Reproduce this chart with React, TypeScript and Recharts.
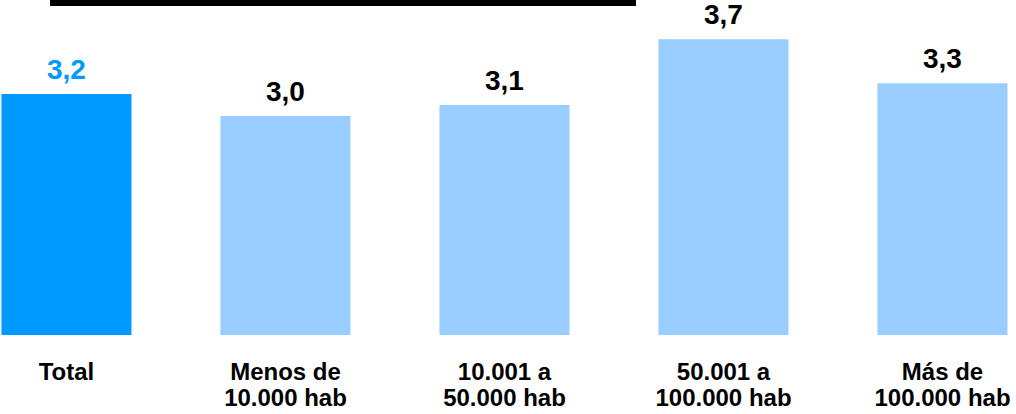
import React from "react";
import { BarChart, Bar, XAxis, YAxis, Cell, LabelList } from "recharts";

const categories = ["Total", "Menos de\n10.000 hab", "10.001 a\n50.000 hab", "50.001 a\n100.000 hab", "Más de\n100.000 hab"];
const values = [3.2, 3.0, 3.1, 3.7, 3.3];
const highlight = [true, false, false, false, false];

const data = categories.map((c, i) => ({ name: c, value: values[i], hl: highlight[i] }));

const FONT = '"Liberation Sans", Arial, sans-serif';

const CatTick = (props: any) => {
  const { x, y, payload } = props;
  const lines = String(payload.value).split("\n");
  return (
    <text x={x} y={y} textAnchor="middle" fontFamily={FONT} fontWeight="bold" fontSize={24} fill="#000">
      {lines.map((l, i) => (
        <tspan key={i} x={x} y={y + 45 + i * 26}>
          {l}
        </tspan>
      ))}
    </text>
  );
};

const ValueLabel = (props: any) => {
  const { x, y, width, index } = props;
  const v = values[index];
  return (
    <text
      x={x + width / 2}
      y={y - 15}
      textAnchor="middle"
      fontFamily={FONT}
      fontWeight="bold"
      fontSize={28}
      fill={highlight[index] ? "#0099FF" : "#000"}
    >
      {v.toFixed(1).replace(".", ",")}
    </text>
  );
};

export default function App() {
  return (
    <div style={{ position: "absolute", left: 0, top: 0, width: 1016, height: 414, overflow: "hidden", background: "#fff" }}>
      <div style={{ position: "absolute", left: 50, top: 0, width: 586, height: 6, background: "#000" }} />
      <div style={{ position: "absolute", left: -43, top: 0 }}>
        <BarChart width={1095} height={414} data={data} margin={{ top: 6.5, right: 0, bottom: 0, left: 0 }} barCategoryGap="20.3%">
          <XAxis dataKey="name" axisLine={false} tickLine={false} tickSize={0} tickMargin={0} height={79} interval={0} tick={<CatTick />} />
          <YAxis hide domain={[1, 4]} allowDataOverflow />
          <Bar dataKey="value" isAnimationActive={false}>
            {data.map((d, i) => (
              <Cell key={i} fill={d.hl ? "#0099FF" : "#99CCFF"} />
            ))}
            <LabelList dataKey="value" content={<ValueLabel />} />
          </Bar>
        </BarChart>
      </div>
    </div>
  );
}
